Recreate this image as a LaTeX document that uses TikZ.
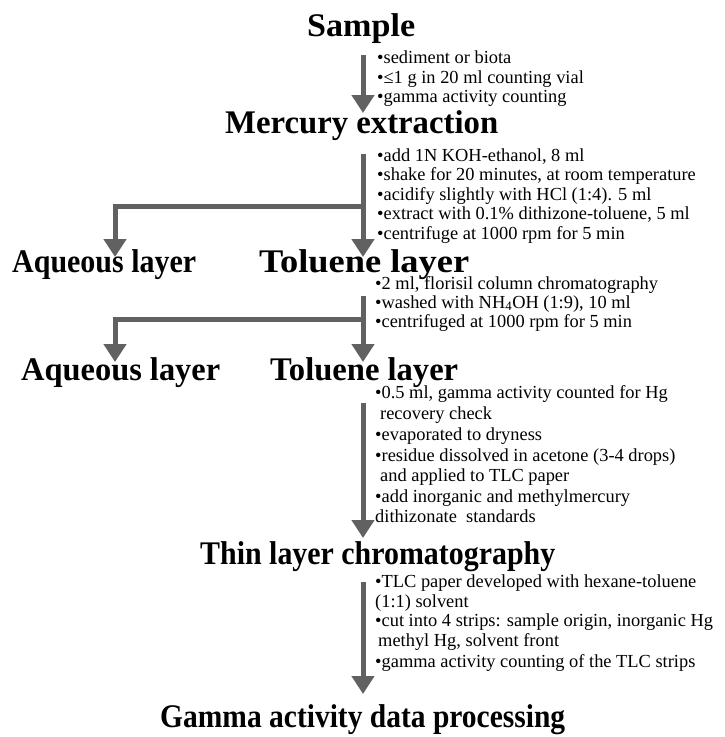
\documentclass[tikz,border=0pt]{standalone}
\usepackage{fontspec}
\setmainfont{Liberation Serif}
\usepackage{graphicx}
\usetikzlibrary{arrows.meta}
\tikzset{
  flow/.style={draw=black!62, line width=5pt, line join=miter,
    -{Triangle[width=22pt,length=18pt]}},
  head/.style={anchor=base west, inner sep=0pt, font=\fontsize{33}{33}\selectfont\bfseries},
  body/.style={anchor=base west, inner sep=0pt, font=\fontsize{18.4}{20}\selectfont}
}
\newcommand{\hdw}[2]{\resizebox{#1pt}{\height}{#2}}
\begin{document}
\begin{tikzpicture}[x=1pt,y=-1pt]
\useasboundingbox (0,0) rectangle (724,737);
% headings
\node[head] (sample) at (307,36) {\hdw{108}{Sample}};
\node[head] (mercury) at (225,133) {\hdw{273}{Mercury extraction}};
\node[head] (aq1) at (12,272) {\hdw{184}{Aqueous layer}};
\node[head] (tol1) at (259,272) {\hdw{210}{Toluene layer}};
\node[head] (aq2) at (21,380) {\hdw{199}{Aqueous layer}};
\node[head] (tol2) at (270,380) {\hdw{188}{Toluene layer}};
\node[head] (tlc) at (200,564) {\hdw{355}{Thin layer chromatography}};
\node[head] (gamma) at (160,727) {\hdw{405}{Gamma activity data processing}};
% arrow coordinates
\coordinate (a1s) at (363,55);  \coordinate (a1e) at (363,113);
\coordinate (a2s) at (363,154); \coordinate (a2e) at (363,257);
\coordinate (a2b) at (363,206); \coordinate (a2l) at (115,257);
\coordinate (a3s) at (363,296); \coordinate (a3e) at (363,362);
\coordinate (a3b) at (363,319); \coordinate (a3l) at (115,362);
\coordinate (a4s) at (363,403); \coordinate (a4e) at (363,538);
\coordinate (a5s) at (363,582); \coordinate (a5e) at (363,694);
\draw[flow] (a1s) -- (a1e);
\draw[flow] (a2s) -- (a2e);
\draw[flow] (a2b) -| (a2l);
\draw[flow] (a3s) -- (a3e);
\draw[flow] (a3b) -| (a3l);
\draw[flow] (a4s) -- (a4e);
\draw[flow] (a5s) -- (a5e);
% block 1
\node[body] (t11) at (377,63) {•sediment or biota};
\node[body] (t12) at (377,83) {•≤1 g in 20 ml counting vial};
\node[body] (t13) at (377,102) {•gamma activity counting};
% block 2
\node[body] (t21) at (377,161) {•add 1N KOH-ethanol, 8 ml};
\node[body] (t22) at (377,180) {•shake for 20 minutes, at room temperature};
\node[body] (t23) at (377,200) {•acidify slightly with HCl (1:4). 5 ml};
\node[body] (t24) at (377,219) {•extract with 0.1\% dithizone-toluene, 5 ml};
\node[body] (t25) at (377,239) {•centrifuge at 1000 rpm for 5 min};
% block 3
\node[body] (t31) at (375,289) {•2 ml, florisil column chromatography};
\node[body] (t32) at (375,308) {•washed with NH\textsubscript{4}OH (1:9), 10 ml};
\node[body] (t33) at (375,327) {•centrifuged at 1000 rpm for 5 min};
% block 4
\node[body] (t41) at (375,398) {•0.5 ml, gamma activity counted for Hg};
\node[body] (t42) at (380,419) {recovery check};
\node[body] (t43) at (375,440) {•evaporated to dryness};
\node[body] (t44) at (375,461) {•residue dissolved in acetone (3-4 drops)};
\node[body] (t45) at (380,481) {and applied to TLC paper};
\node[body] (t46) at (375,502) {•add inorganic and methylmercury};
\node[body] (t47) at (375,522) {dithizonate\ \ standards};
% block 5
\node[body] (t51) at (375,587) {•TLC paper developed with hexane-toluene};
\node[body] (t52) at (375,607) {(1:1) solvent};
\node[body] (t53) at (375,626) {•cut into 4 strips: sample origin, inorganic Hg};
\node[body] (t54) at (378,646) {methyl Hg, solvent front};
\node[body] (t55) at (375,667) {•gamma activity counting of the TLC strips};
\end{tikzpicture}
\end{document}
